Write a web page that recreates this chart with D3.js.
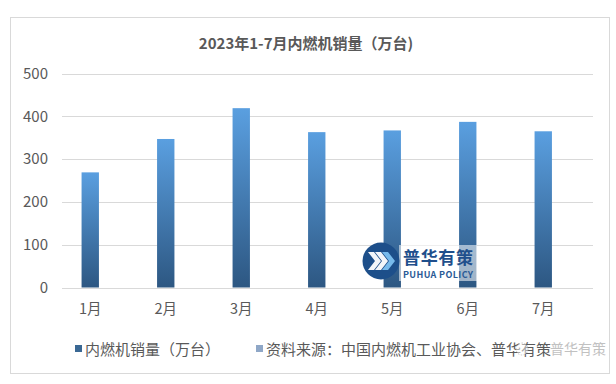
<!DOCTYPE html>
<html><head><meta charset="utf-8">
<script src="https://cdn.jsdelivr.net/npm/d3@7"></script>
<style>
html,body{margin:0;padding:0;background:#fff;}
svg{display:block;font-family:"Noto Sans CJK SC","Noto Sans",sans-serif;}
</style></head>
<body>
<svg id="c" width="616" height="384"></svg>
<script>
const title = "2023年1-7月内燃机销量（万台)";
const categories = ["1月","2月","3月","4月","5月","6月","7月"];
const sales = [269, 347, 419, 363, 367, 387, 365];
const yTicks = [0, 100, 200, 300, 400, 500];
const legendLabels = ["内燃机销量（万台）", "资料来源：中国内燃机工业协会、普华有策"];

const svg = d3.select("#c");
const defs = svg.append("defs");
const g1 = defs.append("linearGradient").attr("id","barGrad").attr("x1",0).attr("y1",0).attr("x2",0).attr("y2",1);
g1.append("stop").attr("offset","0%").attr("stop-color","#5a9fe0");
g1.append("stop").attr("offset","100%").attr("stop-color","#2d5782");

// outer frame
svg.append("rect").attr("x",10.5).attr("y",17.5).attr("width",599).attr("height",356)
  .attr("fill","#fff").attr("stroke","#d9d9d9");

const x = d3.scaleBand().domain(categories).range([52.5, 581]).padding(0);
const y = d3.scaleLinear().domain([0, 500]).range([287.5, 73.5]);

// gridlines
svg.append("g").selectAll("line").data(yTicks).join("line")
  .attr("x1",62).attr("x2",593)
  .attr("y1",d=>Math.round(y(d))+0.5).attr("y2",d=>Math.round(y(d))+0.5)
  .attr("stroke","#d9d9d9").attr("stroke-width",1);

// y labels
const yAxis = d3.axisLeft(y).tickValues(yTicks).tickSize(0).tickPadding(0);
const ya = svg.append("g").attr("transform","translate(48,0)").call(yAxis);
ya.select(".domain").remove();
ya.selectAll("text").attr("font-size",15).attr("fill","#595959")
  .attr("font-family","'Noto Sans CJK SC','Noto Sans',sans-serif");

// bars
const bw = x.bandwidth()*0.23;
svg.append("g").selectAll("rect").data(sales).join("rect")
  .attr("x",(d,i)=>x(categories[i])+x.bandwidth()/2-bw/2)
  .attr("width",bw)
  .attr("y",d=>y(d))
  .attr("height",d=>y(0)-y(d))
  .attr("fill","url(#barGrad)");

// x labels
const xAxis = d3.axisBottom(x).tickSize(0).tickPadding(0);
const xa = svg.append("g").attr("transform","translate(0,304)").call(xAxis);
xa.select(".domain").remove();
xa.selectAll("text").attr("font-size",14.5).attr("fill","#595959")
  .attr("font-family","'Noto Sans CJK SC','Noto Sans',sans-serif");

// title
svg.append("text").attr("x",306).attr("y",48.5).attr("text-anchor","middle")
  .attr("font-size",15).attr("font-weight","bold").attr("fill","#595959").text(title);

// legend
const leg = [{x:75, color:"#3a6894"}, {x:256, color:"#8fa7c7"}];
leg.forEach((l,i)=>{
  svg.append("rect").attr("x",l.x).attr("y",345).attr("width",7).attr("height",7).attr("fill",l.color);
  svg.append("text").attr("x",l.x+10).attr("y",354.5).attr("font-size",15).attr("fill","#595959").text(legendLabels[i]);
});

// watermark logo
svg.append("rect").attr("x",399).attr("y",245).attr("width",78).attr("height",36)
  .attr("fill","#ffffff").attr("opacity",0.55);
const logo = svg.append("g").attr("transform","translate(381,261)");
logo.append("circle").attr("r",18.5).attr("fill","#1d4f8a");
[-8,-1,6].forEach((dx,i)=>{
  logo.append("path")
    .attr("d",`M${dx-5},-9 L${dx+1},-9 L${dx+8},0 L${dx+1},9 L${dx-5},9 L${dx+2},0 Z`)
    .attr("fill", i===2 ? "#7cc0f0" : "#ffffff").attr("opacity",0.95);
});
svg.append("text").attr("x",403).attr("y",264).attr("font-size",17).attr("font-weight","bold")
  .attr("fill","#1f4f8c").attr("textLength",70).text("普华有策");
svg.append("text").attr("x",403).attr("y",278).attr("font-size",9).attr("font-weight","bold")
  .attr("fill","#2a5a96").attr("textLength",70).text("PUHUA POLICY");

// faint corner watermark
svg.append("text").attr("x",550).attr("y",354).attr("font-size",14).attr("fill","#a8a8a8").attr("opacity",0.7).text("普华有策");
svg.append("circle").attr("cx",522).attr("cy",349).attr("r",6).attr("fill","#fff").attr("fill-opacity",0.6)
  .attr("stroke","#bbb").attr("stroke-dasharray","1.5,1.5").attr("opacity",0.8);
</script>
</body></html>
